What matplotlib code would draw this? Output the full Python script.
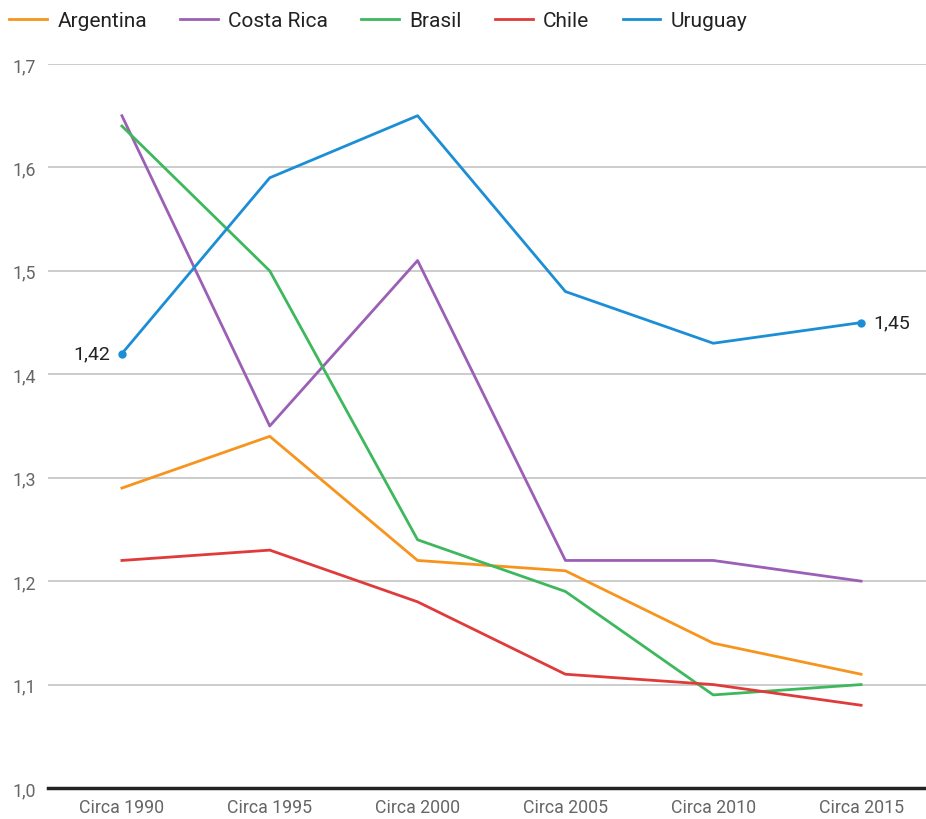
import matplotlib.pyplot as plt

# Datos
periodos = ['Circa 1990', 'Circa 1995', 'Circa 2000', 'Circa 2005', 'Circa 2010', 'Circa 2015']
argentina = [1.29, 1.34, 1.22, 1.21, 1.14, 1.11]
costa_rica = [1.65, 1.35, 1.51, 1.22, 1.22, 1.20]
brasil = [1.64, 1.50, 1.24, 1.19, 1.09, 1.10]
chile = [1.22, 1.23, 1.18, 1.11, 1.10, 1.08]
uruguay = [1.42, 1.59, 1.65, 1.48, 1.43, 1.45]

plt.rcParams['font.family'] = ['Roboto', 'DejaVu Sans']

fig = plt.figure(figsize=(9.26, 8.2), dpi=100)
ax = fig.add_axes([48 / 926, 31 / 820, (935 - 48) / 926, (789 - 65) / 820])

x = range(len(periodos))
series = [
    ('Argentina', argentina, '#F7941D'),
    ('Costa Rica', costa_rica, '#9B5FB5'),
    ('Brasil', brasil, '#3DB85C'),
    ('Chile', chile, '#E03A3A'),
    ('Uruguay', uruguay, '#1B8ED6'),
]
for nombre, vals, color in series:
    ax.plot(x, vals, color=color, lw=2, label=nombre)

# puntos y etiquetas de Uruguay
ax.plot([0, 5], [uruguay[0], uruguay[-1]], 'o', color='#1B8ED6', ms=5)
ax.text(-0.08, uruguay[0], '1,42', ha='right', va='center', fontsize=14, color='#222222')
ax.text(5.08, uruguay[-1], '1,45', ha='left', va='center', fontsize=14, color='#222222')

ax.set_xlim(-0.5, 5.5)
ax.set_ylim(1.0, 1.7)
ax.set_yticks([1.0, 1.1, 1.2, 1.3, 1.4, 1.5, 1.6, 1.7])
ax.set_yticklabels(['1,0', '1,1', '1,2', '1,3', '1,4', '1,5', '1,6', '1,7'])
ax.set_xticks(list(x))
ax.set_xticklabels(periodos)
ax.tick_params(axis='both', length=0, labelsize=12.8, colors='#666666')
ax.tick_params(axis='y', pad=9)
ax.tick_params(axis='x', pad=7)
ax.grid(axis='y', color='#C4C4C4', lw=1.2)
ax.set_axisbelow(True)
for s in ['top', 'right', 'left']:
    ax.spines[s].set_visible(False)
ax.spines['bottom'].set_color('#222222')
ax.spines['bottom'].set_linewidth(2.5)

fig.legend(loc='upper left', bbox_to_anchor=(-0.01, 1.008), ncol=5, frameon=False,
           fontsize=15, handlelength=1.8, columnspacing=1.6, handletextpad=0.5,
           labelcolor='#222222')

fig.savefig('out.png', dpi=100)
